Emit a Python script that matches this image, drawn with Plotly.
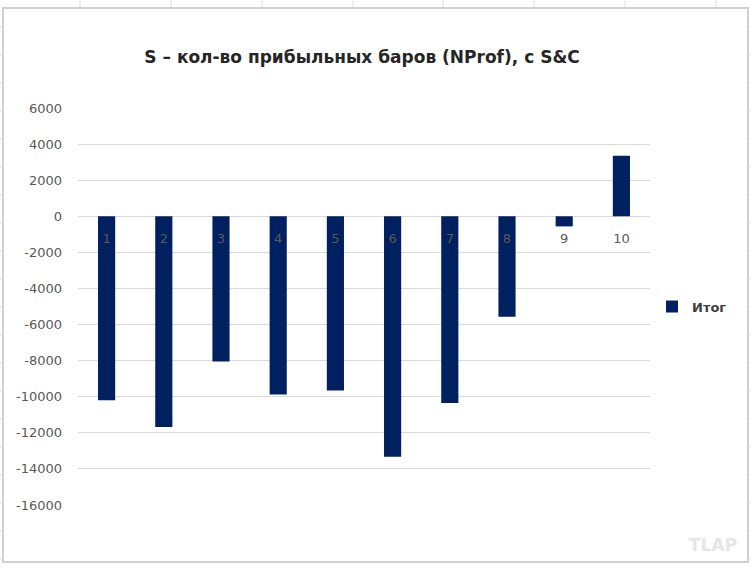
import plotly.graph_objects as go

categories = ["1", "2", "3", "4", "5", "6", "7", "8", "9", "10"]
values = [-10190, -11680, -8050, -9870, -9650, -13320, -10350, -5570, -560, 3350]
series_name = "Итог"
title_text = "S – кол-во прибыльных баров (NProf), с S&C"
y_ticks = [6000, 4000, 2000, 0, -2000, -4000, -6000, -8000, -10000, -12000, -14000, -16000]

W, H = 751, 567
L, R, T, B = 78, 650, 108, 505  # plot area in px
FONT = "DejaVu Sans, Liberation Sans, Arial, sans-serif"


def px(x):
    return (x - L) / (R - L)


def py(y):
    return (B - y) / (B - T)


fig = go.Figure()
fig.add_trace(go.Bar(
    x=categories, y=values, name=series_name,
    marker=dict(color="#002060", line=dict(width=0)),
    width=0.3,
    showlegend=True,
))

shapes = []
# chart border
shapes.append(dict(type="rect", xref="paper", yref="paper",
                   x0=px(3), x1=px(748), y0=py(562), y1=py(8),
                   line=dict(color="#d0d0d0", width=2), layer="below"))
# faint spreadsheet grid outside the chart
for gx in [80, 171, 262, 353, 443, 534, 625, 716]:
    shapes.append(dict(type="line", xref="paper", yref="paper",
                       x0=px(gx), x1=px(gx), y0=py(0), y1=py(7),
                       line=dict(color="#dcdcdc", width=1)))
for gy in range(27, 567, 28):
    shapes.append(dict(type="line", xref="paper", yref="paper",
                       x0=px(0), x1=px(2), y0=py(gy), y1=py(gy),
                       line=dict(color="#dcdcdc", width=1)))
    shapes.append(dict(type="line", xref="paper", yref="paper",
                       x0=px(749), x1=px(751), y0=py(gy), y1=py(gy),
                       line=dict(color="#dcdcdc", width=1)))

fig.update_layout(
    width=W, height=H,
    margin=dict(l=L, r=W - R, t=T, b=H - B, pad=0),
    paper_bgcolor="white", plot_bgcolor="white",
    font=dict(family=FONT, color="#595959", size=13),
    title=dict(text="<b>" + title_text + "</b>", x=362 / W, xanchor="center",
               y=1 - 57 / H, yanchor="middle",
               font=dict(size=17, color="#262626", family=FONT)),
    bargap=0.7,
    xaxis=dict(
        type="category",
        anchor="free", position=16000 / 22000,
        showgrid=False, showline=False, zeroline=False,
        ticks="", ticklabelstandoff=13,
        tickfont=dict(size=13, color="#595959", family=FONT),
        fixedrange=True,
    ),
    yaxis=dict(
        range=[-16000, 6000],
        tickvals=y_ticks,
        ticktext=[str(v) for v in y_ticks],
        showgrid=True, gridcolor="#d9d9d9", gridwidth=1,
        zeroline=True, zerolinecolor="#d9d9d9", zerolinewidth=1,
        showline=False, ticks="",
        tickfont=dict(size=13, color="#595959", family=FONT),
        ticklabelstandoff=15,
    ),
    legend=dict(x=px(652), xanchor="left", y=0.5, yanchor="middle",
                font=dict(size=13, color="#404040", family=FONT, weight="bold"),
                bgcolor="rgba(0,0,0,0)", itemwidth=30),
    shapes=shapes,
    annotations=[dict(text="<b>TLAP</b>", xref="paper", yref="paper",
                      x=px(739), y=py(545), xanchor="right", yanchor="middle",
                      showarrow=False, font=dict(size=17, color="#e6e6e6", family=FONT))],
)

fig.write_html("out.html")
